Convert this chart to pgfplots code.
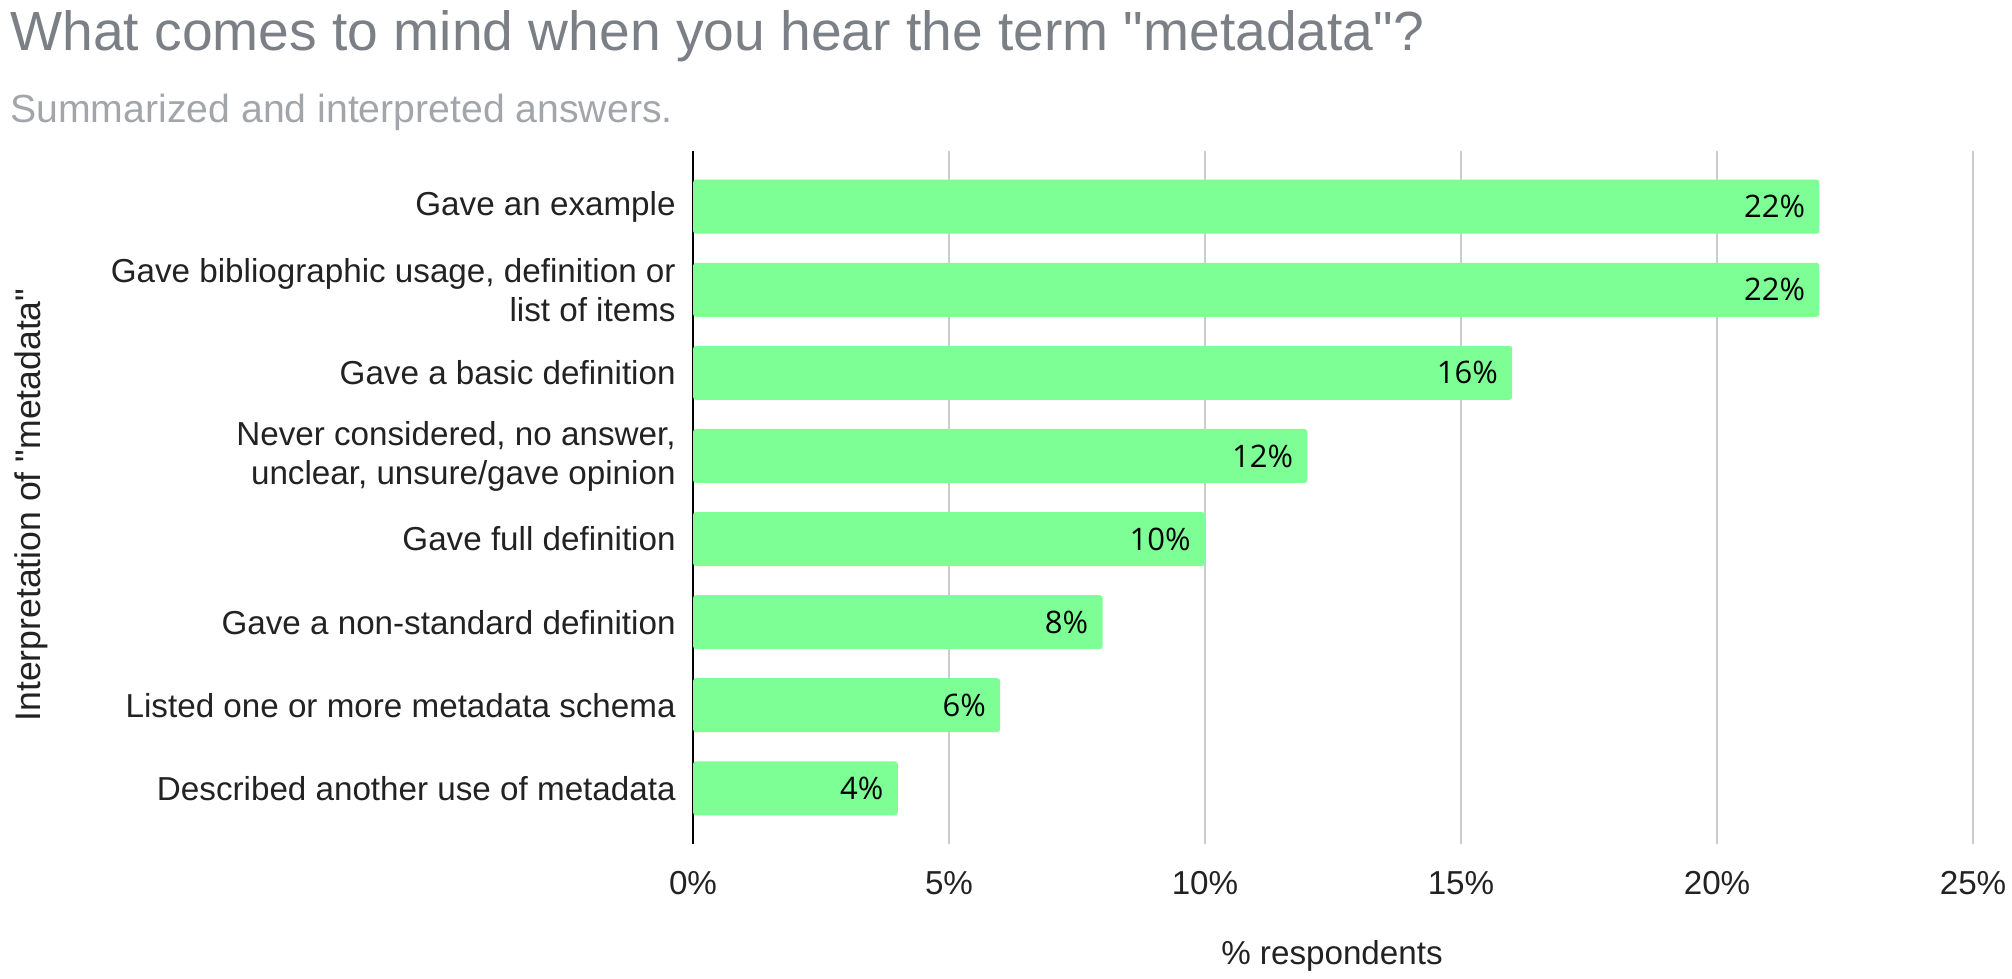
\documentclass[border=0pt]{standalone}
\usepackage{fontspec}
\setmainfont{Liberation Sans}[Ligatures=TeXOff]
\newfontfamily\opensans{Open Sans}
\usepackage{pgfplots}
\pgfplotsset{compat=1.18}
\definecolor{barGreen}{HTML}{7DFF95}
\definecolor{titleGray}{HTML}{7B8086}
\definecolor{subGray}{HTML}{A2A6AA}
\definecolor{gridGray}{HTML}{CCCCCC}
\definecolor{labelBlack}{HTML}{222222}
\begin{document}
\begin{tikzpicture}
\useasboundingbox (0,0) rectangle (1006pt,489.5pt);
\node[anchor=base west, inner sep=0pt, text=titleGray, font=\fontsize{27.6}{32}\selectfont] at (5pt,464pt) {What comes to mind when you hear the term "metadata"?};
\node[anchor=base west, inner sep=0pt, text=subGray, font=\fontsize{19.6}{23}\selectfont] at (5pt,428pt) {Summarized and interpreted answers.};
\node[rotate=90, anchor=base, inner sep=0pt, text=labelBlack, font=\fontsize{17.8}{20}\selectfont] at (20.5pt,237pt) {Interpretation of "metadata"};
\node[anchor=base, inner sep=0pt, text=labelBlack, font=\fontsize{16.6}{20}\selectfont] at (666pt,7pt) {\% respondents};
\begin{axis}[
  at={(346.5pt,67.5pt)}, anchor=south west,
  scale only axis, width=640pt, height=346.5pt,
  xbar, bar width=27pt,
  xmin=0, xmax=25, ymin=-0.67, ymax=7.67, y dir=reverse,
  axis line style={draw=none},
  major tick length=0pt,
  xtick={0,5,10,15,20,25},
  xticklabel={\pgfmathprintnumber{\tick}\%},
  /pgf/number format/assume math mode=true,
  xticklabel style={anchor=base, inner sep=0pt, yshift=-25pt, text=labelBlack, font=\fontsize{16.6}{20}\selectfont},
  ytick={0,1,2,3,4,5,6,7},
  yticklabels={
    Gave an example,
    {Gave bibliographic usage, definition or\\list of items},
    Gave a basic definition,
    {Never considered, no answer,\\unclear, unsure/gave opinion},
    Gave full definition,
    Gave a non-standard definition,
    Listed one or more metadata schema,
    Described another use of metadata},
  yticklabel style={anchor=east, align=right, inner sep=0pt, xshift=-8.5pt, text=labelBlack, font=\fontsize{16.6}{19.5}\selectfont},
  xmajorgrids,
  major grid style={color=gridGray, line width=1pt},
  extra x ticks={0},
  extra x tick labels={},
  extra x tick style={grid=major, major grid style={color=black, line width=1pt}},
  point meta=x,
  nodes near coords={\pgfmathprintnumber{\pgfplotspointmeta}\%},
  every node near coord/.append style={anchor=east, xshift=-7pt, inner sep=0pt, text=black, font=\opensans\fontsize{15.5}{18}\selectfont},
]
\addplot[draw=none, fill=barGreen, rounded corners=1.5pt] coordinates {
  (22,0) (22,1) (16,2) (12,3) (10,4) (8,5) (6,6) (4,7)
};
\end{axis}
\end{tikzpicture}
\end{document}
